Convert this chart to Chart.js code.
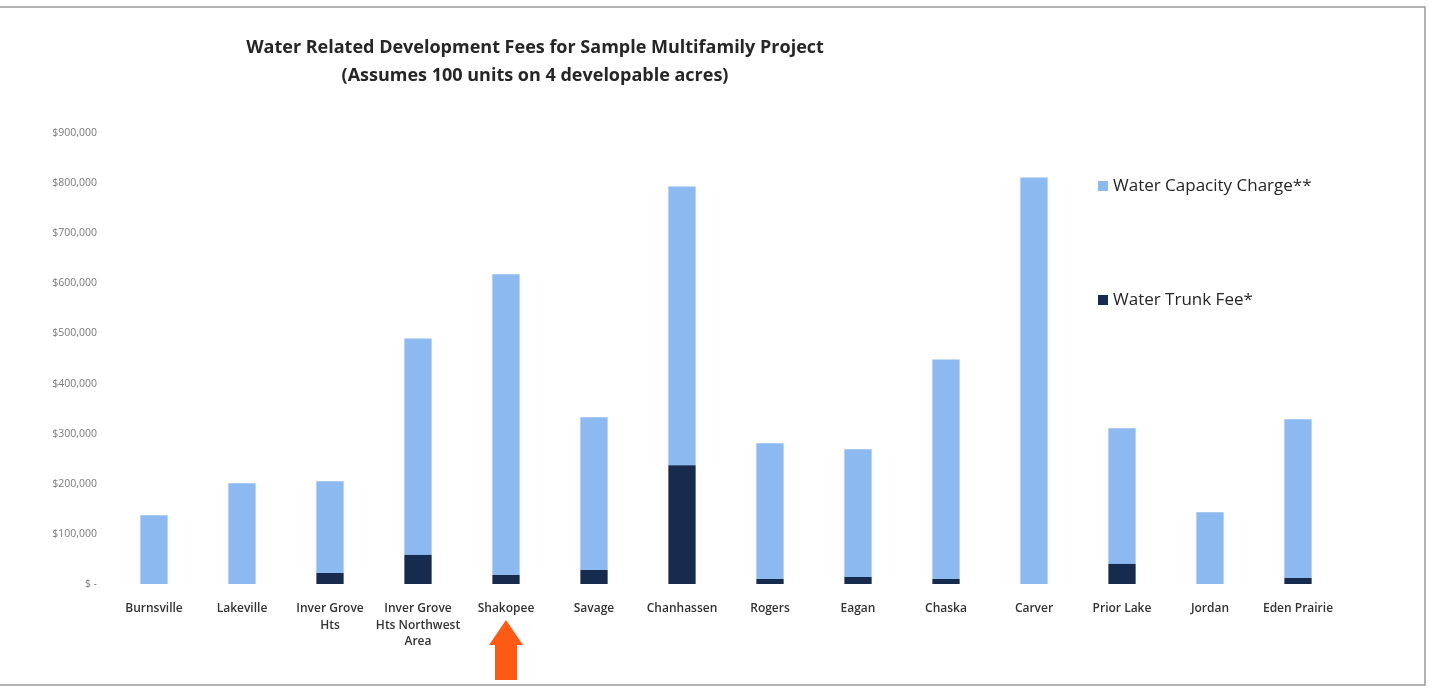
<!DOCTYPE html>
<html>
<head>
<meta charset="utf-8">
<script src="https://cdn.jsdelivr.net/npm/chart.js@4/dist/chart.umd.min.js"></script>
<style>
  html, body { margin: 0; padding: 0; background: #fff; }
  #wrap { width: 1435px; height: 692px; position: relative; }
</style>
</head>
<body>
<div id="wrap"><canvas id="fees-canvas" width="1435" height="692"></canvas></div>
<script>
const cities = [
  'Burnsville', 'Lakeville', ['Inver Grove', 'Hts'], ['Inver Grove', 'Hts Northwest', 'Area'],
  'Shakopee', 'Savage', 'Chanhassen', 'Rogers', 'Eagan', 'Chaska', 'Carver',
  'Prior Lake', 'Jordan', 'Eden Prairie'
];
// values, in dollars
const trunkFee = [0, 0, 22000, 58000, 18000, 28000, 237000, 10000, 14000, 10000, 0, 40000, 0, 12000];
const capacityCharge = [137000, 201000, 183000, 432000, 600000, 305000, 556000, 271000, 255000, 438000, 811000, 271000, 143000, 317000];
const yTicks = [0, 100000, 200000, 300000, 400000, 500000, 600000, 700000, 800000, 900000];

const titleLines = [
  'Water Related Development Fees for Sample Multifamily Project',
  '(Assumes 100 units on 4 developable acres)'
];

const canvas = document.querySelector('#fees-canvas');

const fmtMoney = (v) => {
  if (v === 0) return '$ -';
  return '$' + v.toLocaleString('en-US');
};

// title, legend, frame and the orange arrow under Shakopee
const extras = {
  id: 'extras',
  afterDraw(chart) {
    const ctx = chart.ctx;
    ctx.save();

    // frame of the scanned page
    ctx.strokeStyle = '#9a9a9a';
    ctx.lineWidth = 1.5;
    ctx.beginPath();
    ctx.moveTo(0, 7);
    ctx.lineTo(1425, 7);
    ctx.lineTo(1425, 685);
    ctx.lineTo(0, 685);
    ctx.stroke();

    // title
    ctx.fillStyle = '#262626';
    ctx.font = 'bold 18px "Open Sans"';
    ctx.textAlign = 'center';
    ctx.textBaseline = 'middle';
    ctx.fillText(titleLines[0], 535, 48);
    ctx.fillText(titleLines[1], 535, 76);

    // legend, drawn in reverse dataset order like Excel does
    const ds = chart.data.datasets.slice().reverse();
    const legY = [186, 300];
    ctx.font = '17px "Open Sans"';
    ctx.textAlign = 'left';
    ds.forEach((d, i) => {
      ctx.fillStyle = d.backgroundColor;
      ctx.fillRect(1098, legY[i] - 5, 10, 10);
      ctx.fillStyle = '#262626';
      ctx.fillText(d.label, 1113, legY[i]);
    });

    // arrow
    const ax = chart.scales.x.getPixelForValue(4);
    ctx.fillStyle = '#ff5a14';
    ctx.beginPath();
    ctx.moveTo(ax, 620);
    ctx.lineTo(ax + 17, 645);
    ctx.lineTo(ax + 11, 645);
    ctx.lineTo(ax + 11, 680);
    ctx.lineTo(ax - 11, 680);
    ctx.lineTo(ax - 11, 645);
    ctx.lineTo(ax - 17, 645);
    ctx.closePath();
    ctx.fill();

    ctx.restore();
  }
};

let chartObject = new Chart(canvas, {
  type: 'bar',
  data: {
    labels: cities,
    datasets: [{
      label: 'Water Trunk Fee*',
      data: trunkFee,
      backgroundColor: '#172b4f',
      barPercentage: 0.31,
      categoryPercentage: 1
    }, {
      label: 'Water Capacity Charge**',
      data: capacityCharge,
      backgroundColor: '#8cb9ef',
      barPercentage: 0.31,
      categoryPercentage: 1
    }]
  },
  plugins: [extras],
  options: {
    responsive: false,
    animation: false,
    layout: {
      padding: { top: 133, right: 93, bottom: 0, left: 0 }
    },
    plugins: {
      legend: { display: false },
      title: { display: false },
      tooltip: { enabled: false }
    },
    scales: {
      x: {
        stacked: true,
        grid: { display: false },
        border: { display: false },
        ticks: {
          color: '#333',
          padding: 8,
          maxRotation: 0,
          autoSkip: false,
          font: { family: 'Open Sans', size: 12, weight: 600, lineHeight: 1.4 }
        },
        afterFit: (scale) => { scale.height = 108; }
      },
      y: {
        stacked: true,
        min: 0,
        max: 900000,
        afterBuildTicks: (scale) => {
          scale.ticks = yTicks.map(v => ({ value: v }));
        },
        grid: { display: false },
        border: { display: false },
        ticks: {
          color: '#7a7a7a',
          padding: 5,
          font: { family: 'Open Sans', size: 10.5 },
          callback: (v) => fmtMoney(v)
        },
        afterFit: (scale) => { scale.width = 110; }
      }
    }
  }
});
</script>
</body>
</html>
